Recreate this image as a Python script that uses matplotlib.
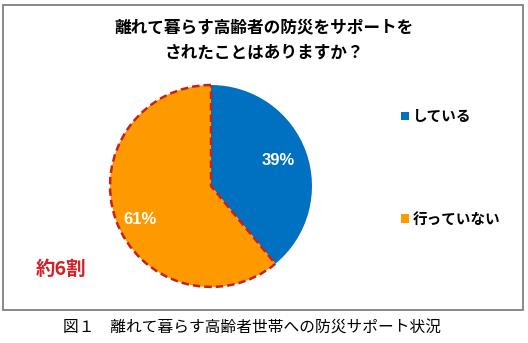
import matplotlib.pyplot as plt
from matplotlib.patches import Rectangle, Patch

plt.rcParams['font.family'] = ['Noto Sans CJK JP', 'DejaVu Sans']

labels = ['している', '行っていない']
values = [39, 61]
colors = ['#0070C0', '#FF9900']
title = '離れて暮らす高齢者の防災をサポートを\nされたことはありますか？'
caption = '図１　離れて暮らす高齢者世帯への防災サポート状況'
note = '約6割'

W, H = 528, 343
fig = plt.figure(figsize=(W / 100, H / 100), dpi=100)

# outer frame of the chart area
fig.add_artist(Rectangle((3 / W, 1 - 310 / H), 520 / W, 305 / H,
                         transform=fig.transFigure, fill=False,
                         edgecolor='#808080', linewidth=1.3))

fig.text(264 / W, 1 - 40 / H, title, ha='center', va='center',
         fontsize=12, fontweight='bold', linespacing=1.45)

# pie: center (211, 186), radius ~103 px
cx, cy, r = 211, 186, 103
ax = fig.add_axes([(cx - r) / W, 1 - (cy + r) / H, 2 * r / W, 2 * r / H])
wedges, _ = ax.pie(values, colors=colors, startangle=90, counterclock=False,
                   radius=1, wedgeprops=dict(linewidth=0))
ax.set_xlim(-1.02, 1.02)
ax.set_ylim(-1.02, 1.02)
ax.set_aspect('equal')

# dashed outline around the larger slice
wedges[1].set_edgecolor('#C82020')
wedges[1].set_linestyle((0, (3, 1.6)))
wedges[1].set_linewidth(1.8)
wedges[1].set_zorder(3)

ax.text(0.67, 0.25, f'{values[0]}%', color='white', fontsize=12,
        fontweight='bold', family=['Liberation Sans'], ha='center', va='center')
ax.text(-0.70, -0.33, f'{values[1]}%', color='white', fontsize=12,
        fontweight='bold', family=['Liberation Sans'], ha='center', va='center')

fig.text(61 / W, 1 - 269 / H, note, color='#D42027', fontsize=14,
         fontweight='bold', ha='center', va='center')

handles = [Patch(facecolor=c, edgecolor='none') for c in colors]
fig.legend(handles, labels, loc='upper left',
           bbox_to_anchor=(388 / W, 1 - 95 / H), frameon=False,
           handlelength=0.55, handleheight=0.55,
           handletextpad=0.25, labelspacing=5.95,
           prop={'weight': 'bold', 'size': 10.5})

fig.text(252 / W, 1 - 327 / H, caption, ha='center', va='center', fontsize=11.3)

fig.savefig('out.png', dpi=100)
